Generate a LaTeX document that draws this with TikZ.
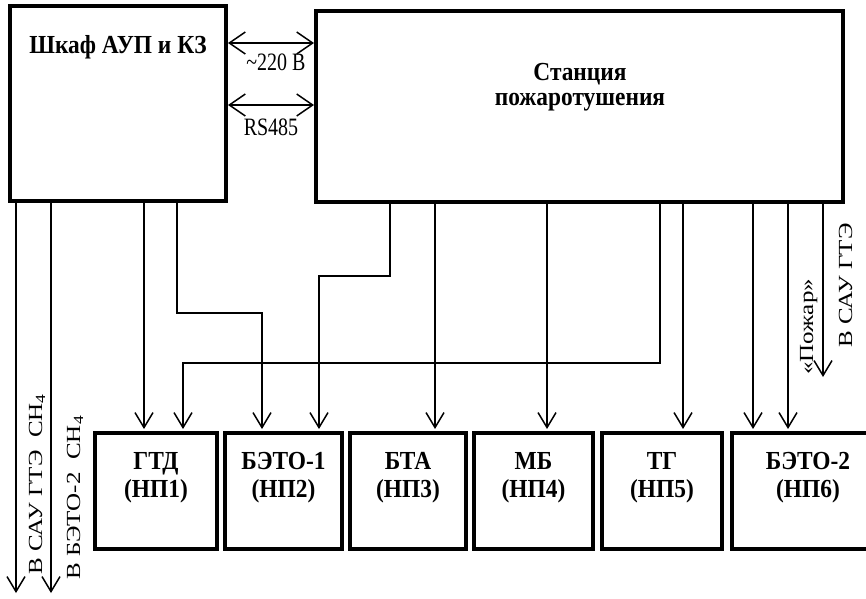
\documentclass[tikz,border=0pt]{standalone}
\usepackage{fontspec}
\setmainfont{Liberation Serif}
\newfontfamily\regf{Liberation Serif}[FakeStretch=0.8]
\newfontfamily\boldf{Liberation Serif}[FakeStretch=0.9]
\newfontfamily\vertf{Liberation Serif}[FakeStretch=1.25]
\usetikzlibrary{arrows.meta}
\begin{document}
\begin{tikzpicture}[x=1pt,y=-1pt,
  blk/.style={draw, rectangle, line width=3.5pt, inner sep=0pt, outer sep=0pt},
  wire/.style={line width=1.5pt},
  varr/.style={wire, -{Straight Barb[length=15pt,width=18pt,line width=1.5pt]}},
  harr/.style={wire, {Straight Barb[length=16pt,width=22pt,line width=1.5pt]}-{Straight Barb[length=16pt,width=22pt,line width=1.5pt]}, shorten <=2pt, shorten >=2pt},
  btxt/.style={font=\boldf\bfseries\fontsize{26}{30}\selectfont, inner sep=0pt, anchor=base},
  rtxt/.style={font=\regf\fontsize{25}{30}\selectfont, inner sep=0pt, anchor=base},
  vtxt/.style={font=\vertf\fontsize{20}{24}\selectfont, inner sep=0pt, rotate=90, anchor=base west}]
\useasboundingbox (0,0) rectangle (866,598);
\clip (0,0) rectangle (866,598);

% main blocks
\node[blk, minimum width=216pt, minimum height=195pt] (shkaf) at (118,103.5) {};
\node[blk, minimum width=527pt, minimum height=191pt] (st) at (579.5,106.5) {};
\node[btxt] (shkafT) at (118,53) {Шкаф АУП и КЗ};
\node[btxt] (stT1) at (580,80) {Станция};
\node[btxt] (stT2) at (580,105) {пожаротушения};

% bottom blocks
\node[blk, minimum width=122pt, minimum height=116pt] (gtd) at (156,491) {};
\node[blk, minimum width=117pt, minimum height=116pt] (b1) at (283.5,491) {};
\node[blk, minimum width=116pt, minimum height=116pt] (bta) at (408,491) {};
\node[blk, minimum width=119pt, minimum height=116pt] (mb) at (533.5,491) {};
\node[blk, minimum width=120pt, minimum height=116pt] (tg) at (662,491) {};
\node[blk, minimum width=152pt, minimum height=116pt] (b2) at (808,491) {};

\node[btxt] (gtdA) at (156,469) {ГТД};
\node[btxt] (gtdB) at (156,497) {(НП1)};
\node[btxt] (b1A) at (283.5,469) {БЭТО-1};
\node[btxt] (b1B) at (283.5,497) {(НП2)};
\node[btxt] (btaA) at (408,469) {БТА};
\node[btxt] (btaB) at (408,497) {(НП3)};
\node[btxt] (mbA) at (533.5,469) {МБ};
\node[btxt] (mbB) at (533.5,497) {(НП4)};
\node[btxt] (tgA) at (662,469) {ТГ};
\node[btxt] (tgB) at (662,497) {(НП5)};
\node[btxt] (b2A) at (808,469) {БЭТО-2};
\node[btxt] (b2B) at (808,497) {(НП6)};

% links between cabinet and station
\coordinate (h1) at (0,43);
\coordinate (h2) at (0,105);
\draw[harr] (shkaf.east |- h1) -- (st.west |- h1);
\draw[harr] (shkaf.east |- h2) -- (st.west |- h2);
\node[rtxt] (v220) at (276,70) {\textasciitilde 220 В};
\node[rtxt] (rs) at (271,135) {RS485};

% wires from cabinet
\draw[varr] ([xshift=6pt]shkaf.south west) -- ++(0,392) coordinate (e1);
\draw[varr] ([xshift=41pt]shkaf.south west) -- ++(0,392) coordinate (e2);
\draw[varr] ([xshift=134pt]shkaf.south west) -- ([xshift=49pt,yshift=4pt]gtd.north west);
\draw[varr] ([xshift=167pt]shkaf.south west) -- ++(0,112) -| ([xshift=37pt,yshift=4pt]b1.north west);

% wires from station
\draw[varr] ([xshift=74pt]st.south west) -- ++(0,74) -| ([xshift=94pt,yshift=4pt]b1.north west);
\draw[varr] ([xshift=119pt]st.south west) -- ([xshift=85pt,yshift=4pt]bta.north west);
\draw[varr] ([xshift=231pt]st.south west) -- ([xshift=73pt,yshift=4pt]mb.north west);
\draw[varr] ([xshift=344pt]st.south west) -- ++(0,161) -| ([xshift=88pt,yshift=4pt]gtd.north west);
\draw[varr] ([xshift=367pt]st.south west) -- ([xshift=81pt,yshift=4pt]tg.north west);
\draw[varr] ([xshift=437pt]st.south west) -- ([xshift=21pt,yshift=4pt]b2.north west);
\draw[varr] ([xshift=472pt]st.south west) -- ([xshift=56pt,yshift=4pt]b2.north west);
\draw[varr] ([xshift=507pt]st.south west) -- ++(0,175) coordinate (e3);

% rotated labels
\node[vtxt] (l1) at (42,575) {В САУ ГТЭ\ \ СН\textsubscript{4}};
\node[vtxt] (l2) at (80,580) {В БЭТО-2\ \ СН\textsubscript{4}};
\node[vtxt] (r1) at (852,348) {В САУ ГТЭ};
\node[vtxt] (r2) at (813,375) {«Пожар»};
\end{tikzpicture}
\end{document}
